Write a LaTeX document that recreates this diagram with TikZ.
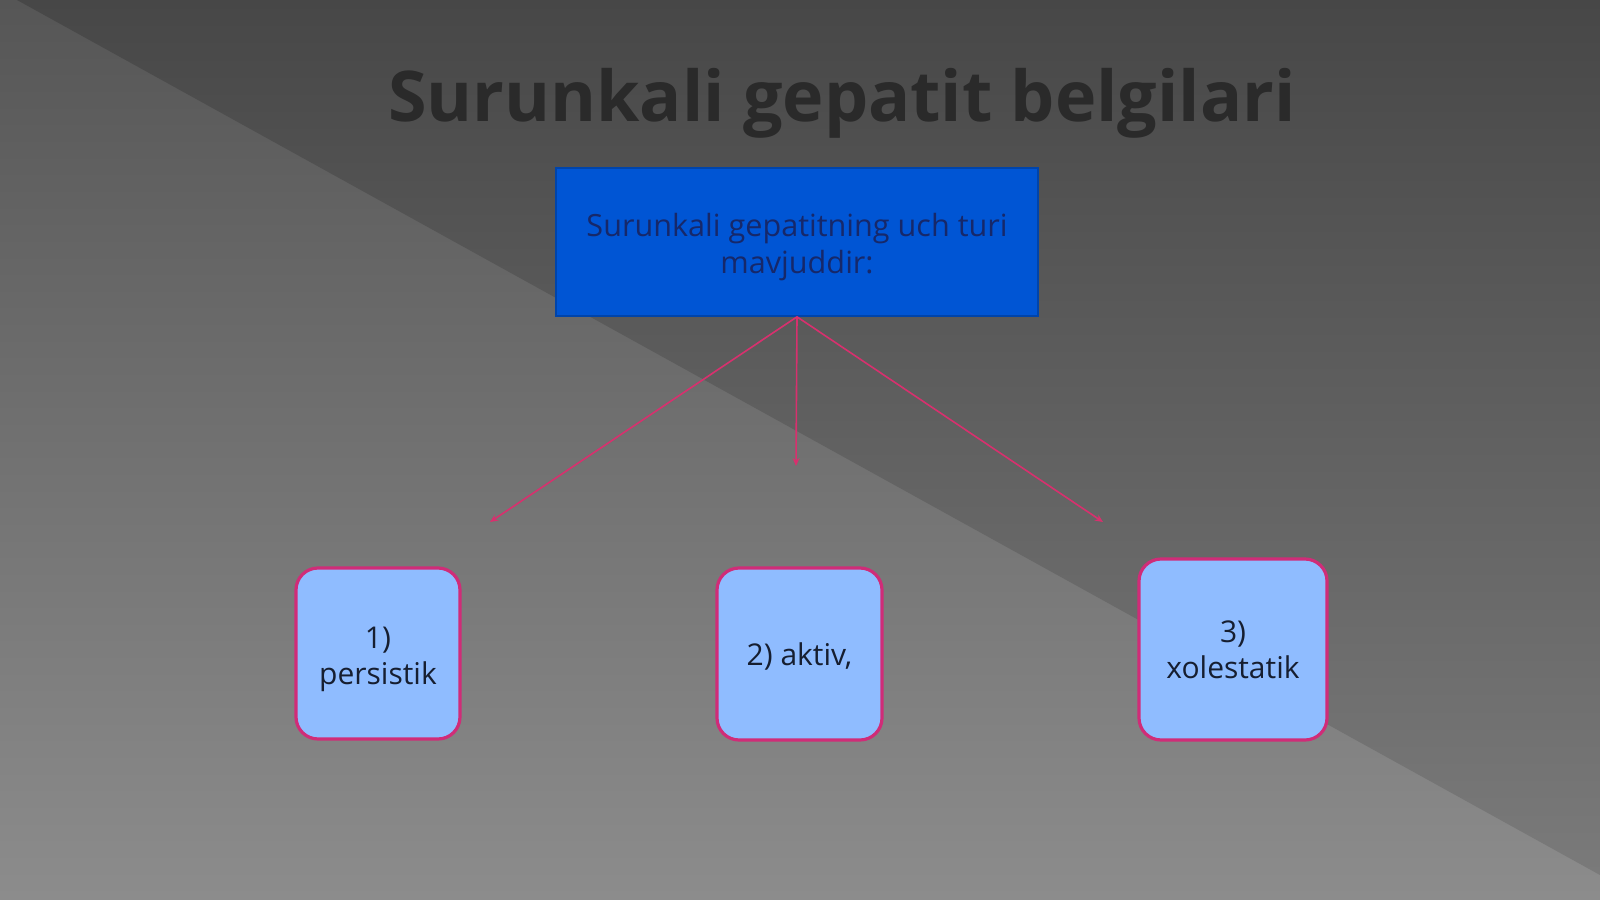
\documentclass[tikz,border=0pt]{standalone}
\usepackage{fontspec}
\setmainfont{Open Sans}
\usetikzlibrary{arrows.meta,shadings}
\definecolor{bgtopA}{HTML}{565656}
\definecolor{bgbotA}{HTML}{8C8C8C}
\definecolor{bgtopB}{HTML}{474747}
\definecolor{bgbotB}{HTML}{7A7A7A}
\definecolor{boxblue}{HTML}{0055D4}
\definecolor{lightblue}{HTML}{8FBCFF}
\definecolor{pinkline}{HTML}{D8306E}
\definecolor{pinkborder}{HTML}{D02C78}
\definecolor{titlecol}{HTML}{2A2A2A}
\definecolor{navytext}{HTML}{16286A}
\definecolor{darktext}{HTML}{161E30}
\tikzset{
  mainbox/.style={rectangle, fill=boxblue, draw=boxblue!80!black, line width=0.8pt,
    text=navytext, font=\fontsize{15.3}{18.5}\selectfont, align=center,
    minimum width=241pt, minimum height=74pt, inner sep=0pt},
  itembox/.style={rectangle, rounded corners=11pt, fill=lightblue, draw=pinkborder,
    line width=1.6pt, text=darktext, font=\fontsize{15}{18}\selectfont, align=center,
    inner sep=0pt},
  link/.style={draw=pinkline, line width=0.8pt, -{Stealth[length=4pt,width=3.5pt]}}
}
\begin{document}
\begin{tikzpicture}[x=0.5pt,y=-0.5pt]
\useasboundingbox (0,0) rectangle (1600,899);
% background
\shade[top color=bgtopA, bottom color=bgbotA] (0,0) rectangle (1600,899);
\shade[top color=bgtopB, bottom color=bgbotB] (17,0) -- (1600,0) -- (1600,875) -- cycle;
% title
\node (title) [text=titlecol, font=\fontsize{35}{40}\selectfont\bfseries] at (842,103) {Surunkali gepatit belgilari};
% main box
\node (main) [mainbox] at (797,242) {\rule{0pt}{16.4pt}Surunkali gepatitning uch turi\\mavjuddir:};
% items
\node (b1) [itembox, minimum width=82pt, minimum height=85.5pt] at (378,653.5) {\rule{0pt}{16.4pt}1)\\persistik};
\node (b2) [itembox, minimum width=82.5pt, minimum height=86pt] at (799.5,654) {\rule{0pt}{13.5pt}2) aktiv,};
\node (b3) [itembox, minimum width=94pt, minimum height=90.5pt] at (1233,649.5) {3)\\xolestatik};
% arrow ends
\coordinate (e1) at (490,522);
\coordinate (e2) at (796,466);
\coordinate (e3) at (1103,522);
\draw[link] (main.south) -- (e1);
\draw[link] (main.south) -- (e2);
\draw[link] (main.south) -- (e3);
\end{tikzpicture}
\end{document}
